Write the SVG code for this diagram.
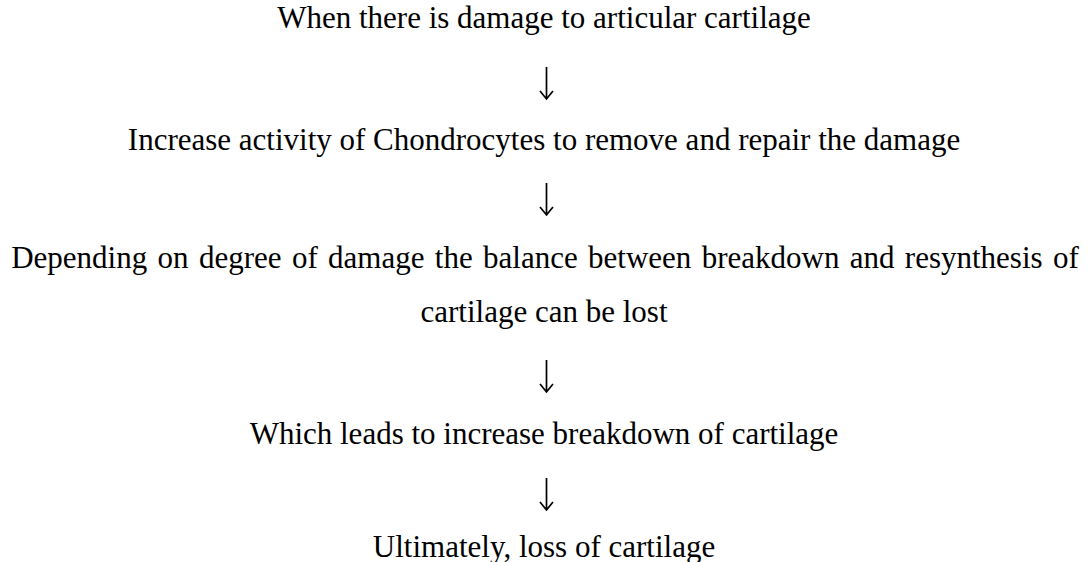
<svg xmlns="http://www.w3.org/2000/svg" width="1088" height="562" viewBox="0 0 1088 562">
<style>
.t{font-family:"Liberation Serif","Times New Roman",serif;font-size:31px;fill:#000;text-anchor:middle}
.c{stroke:#000;stroke-width:1.7;fill:none}
</style>
<rect width="1088" height="562" fill="#fff"/>
<g id="n1"><text class="t" x="544" y="28">When there is damage to articular cartilage</text></g>
<g id="n2"><text class="t" x="544" y="150">Increase activity of Chondrocytes to remove and repair the damage</text></g>
<g id="n3"><text class="t" x="545" y="268" word-spacing="2.6">Depending on degree of damage the balance between breakdown and resynthesis of</text><text class="t" x="544" y="322">cartilage can be lost</text></g>
<g id="n4"><text class="t" x="544" y="444">Which leads to increase breakdown of cartilage</text></g>
<g id="n5"><text class="t" x="544" y="557">Ultimately, loss of cartilage</text></g>
<g id="connectors">
<path class="c" d="M546.5 67V99M540 91l6.5 8 6.5-8"/>
<path class="c" d="M546.5 183V215M540 207l6.5 8 6.5-8"/>
<path class="c" d="M546.5 360V392M540 384l6.5 8 6.5-8"/>
<path class="c" d="M546.5 478V510M540 502l6.5 8 6.5-8"/>
</g>
</svg>
